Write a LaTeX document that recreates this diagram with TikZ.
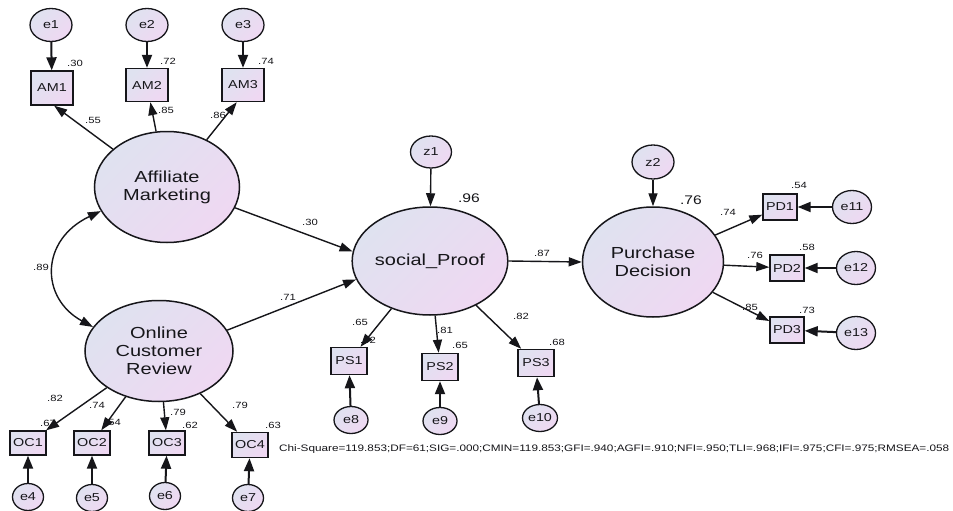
\documentclass[tikz,border=0pt]{standalone}
\usepackage{fontspec}
\setmainfont[FakeStretch=1.25]{Liberation Sans}
\usetikzlibrary{shapes.geometric,arrows.meta}
\definecolor{lavA}{RGB}{223,226,240}
\definecolor{lavB}{RGB}{239,216,242}
\definecolor{ink}{RGB}{22,22,26}
\tikzset{
  fillgrad/.style={shade, shading=axis, top color=lavA, bottom color=lavB, shading angle=45},
  latent/.style={ellipse, draw=ink, line width=1.5pt, fillgrad, inner sep=0pt, font=\fontsize{16}{18}\selectfont, align=center, text=ink},
  obs/.style={rectangle, draw=ink, line width=1.4pt, fillgrad, inner sep=0pt, font=\fontsize{11.5}{13}\selectfont, text=ink},
  err/.style={ellipse, draw=ink, line width=1.3pt, fillgrad, inner sep=0pt, font=\fontsize{11.5}{13}\selectfont, text=ink},
  causal/.style={draw=ink, line width=1.4pt, -{Triangle[length=13pt,width=9pt]}},
  errarr/.style={draw=ink, line width=2pt, -{Triangle[length=13pt,width=10pt]}},
  lbl/.style={font=\fontsize{9}{10}\selectfont, text=ink, inner sep=0pt},
  biglbl/.style={font=\fontsize{12.5}{14}\selectfont, text=ink, inner sep=0pt},
}
\begin{document}
\begin{tikzpicture}[x=1pt,y=-1pt]
\useasboundingbox[fill=white] (0,0) rectangle (953,511);
% latent
\node[latent, minimum width=145pt, minimum height=111pt] (AM) at (167,187) {Affiliate\\Marketing};
\node[latent, minimum width=148pt, minimum height=101pt] (OCR) at (159,351) {Online\\Customer\\Review};
\node[latent, minimum width=140pt, minimum height=108pt] (SP) at (430,261) {social\_Proof};
\node[latent, minimum width=141pt, minimum height=110pt] (PD) at (653,262) {Purchase\\Decision};
% observed
\node[obs, minimum width=42pt, minimum height=34pt] (AM1) at (52,88) {AM1};
\node[obs, minimum width=42pt, minimum height=33pt] (AM2) at (147,85) {AM2};
\node[obs, minimum width=42pt, minimum height=33pt] (AM3) at (243,85) {AM3};
\node[obs, minimum width=36pt, minimum height=24pt] (OC1) at (28,443) {OC1};
\node[obs, minimum width=36pt, minimum height=24pt] (OC2) at (92,443) {OC2};
\node[obs, minimum width=36pt, minimum height=24pt] (OC3) at (167,443) {OC3};
\node[obs, minimum width=36pt, minimum height=25pt] (OC4) at (250,445) {OC4};
\node[obs, minimum width=36pt, minimum height=27pt] (PS1) at (349,361) {PS1};
\node[obs, minimum width=36pt, minimum height=27pt] (PS2) at (440,367) {PS2};
\node[obs, minimum width=36pt, minimum height=27pt] (PS3) at (536,363) {PS3};
\node[obs, minimum width=34pt, minimum height=26pt] (PD1) at (780,207) {PD1};
\node[obs, minimum width=34pt, minimum height=26pt] (PD2) at (787,268) {PD2};
\node[obs, minimum width=34pt, minimum height=26pt] (PD3) at (787,330) {PD3};
% errors
\node[err, minimum width=42pt, minimum height=33pt] (e1) at (51,25) {e1};
\node[err, minimum width=42pt, minimum height=33pt] (e2) at (147,25) {e2};
\node[err, minimum width=42pt, minimum height=33pt] (e3) at (243,25) {e3};
\node[err, minimum width=31pt, minimum height=27pt] (e4) at (28,497) {e4};
\node[err, minimum width=31pt, minimum height=27pt] (e5) at (92,498) {e5};
\node[err, minimum width=31pt, minimum height=27pt] (e6) at (165,496) {e6};
\node[err, minimum width=31pt, minimum height=27pt] (e7) at (248,498) {e7};
\node[err, minimum width=34pt, minimum height=27pt] (e8) at (351,420) {e8};
\node[err, minimum width=34pt, minimum height=27pt] (e9) at (440,421) {e9};
\node[err, minimum width=35pt, minimum height=27pt] (e10) at (540,418) {e10};
\node[err, minimum width=39pt, minimum height=33pt] (e11) at (852,207) {e11};
\node[err, minimum width=39pt, minimum height=33pt] (e12) at (856,268) {e12};
\node[err, minimum width=39pt, minimum height=33pt] (e13) at (856,333) {e13};
\node[err, minimum width=41pt, minimum height=32pt] (z1) at (431,152) {z1};
\node[err, minimum width=42pt, minimum height=34pt] (z2) at (653,162) {z2};
% error arrows
\foreach \a/\b in {e1/AM1,e2/AM2,e3/AM3,e4/OC1,e5/OC2,e6/OC3,e7/OC4,e8/PS1,e9/PS2,e10/PS3,e11/PD1,e12/PD2,e13/PD3}
  \draw[errarr] (\a) -- (\b);
\draw[causal] (z1) -- (SP);
\draw[causal] (z2) -- (PD);
% loadings
\draw[causal] (AM.145) -- (AM1.-83);
\draw[causal] (AM) -- (AM2);
\draw[causal] (AM.50) -- (AM3.-110);
\foreach \b in {OC1,OC2,OC3,OC4} \draw[causal] (OCR) -- (\b);
\foreach \b in {PS1,PS2,PS3} \draw[causal] (SP) -- (\b);
\foreach \b in {PD1,PD2,PD3} \draw[causal] (PD) -- (\b);
% structural
\draw[causal] (AM.-17) -- (SP.173);
\draw[causal] (OCR.17) -- (SP.194);
\draw[causal] (SP.0) -- (PD.180);
\draw[draw=ink, line width=1.4pt, {Triangle[length=13pt,width=9pt]}-{Triangle[length=13pt,width=9pt]}]
  (AM.200) .. controls (40,240) and (40,298) .. (OCR.160);
% labels
\node[lbl] (l1) at (75,63) {.30};
\node[lbl] (l2) at (168,61) {.72};
\node[lbl] (l3) at (266,61) {.74};
\node[lbl] (l4) at (93,120) {.55};
\node[lbl] (l5) at (166,110) {.85};
\node[lbl] (l6) at (218,115) {.86};
\node[lbl] (l7) at (310,222) {.30};
\node[lbl] (l8) at (41,267) {.89};
\node[lbl] (l9) at (288,297) {.71};
\node[lbl] (l10) at (55,398) {.82};
\node[lbl] (l11) at (48,423) {.67};
\node[lbl] (l12) at (97,405) {.74};
\node[lbl] (l13) at (113,422) {.54};
\node[lbl] (l14) at (178,412) {.79};
\node[lbl] (l15) at (190,425) {.62};
\node[lbl] (l16) at (240,405) {.79};
\node[lbl] (l17) at (273,425) {.63};
\node[biglbl] (l18) at (469,198) {.96};
\node[lbl] (l19) at (360,322) {.65};
\node[lbl] (l20) at (368,340) {.42};
\node[lbl] (l21) at (445,330) {.81};
\node[lbl] (l22) at (460,345) {.65};
\node[lbl] (l23) at (521,316) {.82};
\node[lbl] (l24) at (557,342) {.68};
\node[lbl] (l25) at (542,253) {.87};
\node[biglbl] (l26) at (691,200) {.76};
\node[lbl] (l27) at (799,185) {.54};
\node[lbl] (l28) at (728,212) {.74};
\node[lbl] (l29) at (807,247) {.58};
\node[lbl] (l30) at (755,255) {.76};
\node[lbl] (l31) at (750,307) {.85};
\node[lbl] (l32) at (807,310) {.73};
\node[anchor=west, inner sep=0pt, text=ink, font=\fontsize{9.4}{11}\selectfont] (fit) at (279,449) {Chi-Square=119.853;DF=61;SIG=.000;CMIN=119.853;GFI=.940;AGFI=.910;NFI=.950;TLI=.968;IFI=.975;CFI=.975;RMSEA=.058};
\end{tikzpicture}
\end{document}
